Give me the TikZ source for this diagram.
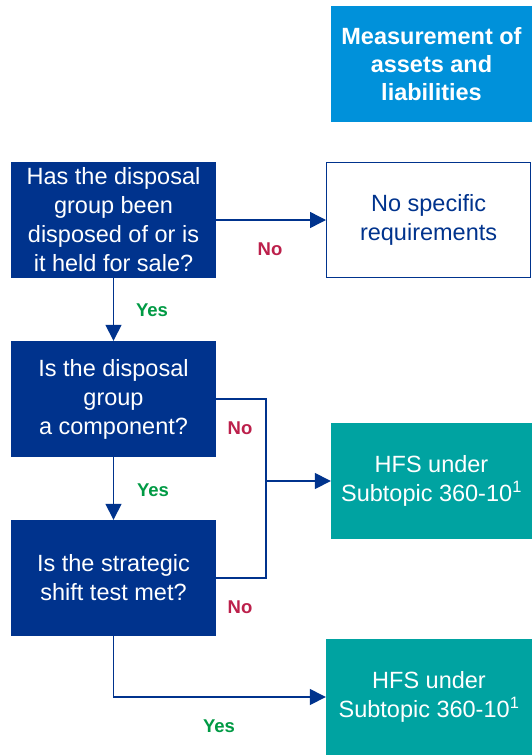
\documentclass[tikz,border=0pt]{standalone}
\usepackage{fontspec}
\setmainfont{Liberation Sans}
\usetikzlibrary{arrows.meta}
\definecolor{kdark}{HTML}{00338D}
\definecolor{klight}{HTML}{0091DA}
\definecolor{kteal}{HTML}{00A3A1}
\definecolor{kred}{HTML}{BC204B}
\definecolor{kgreen}{HTML}{009A44}
\begin{document}
\begin{tikzpicture}[x=1pt,y=-1pt,
  qbox/.style={rectangle, fill=kdark, text=white, minimum width=205pt, minimum height=116pt, inner sep=0pt, align=center, font=\fontsize{23.5}{29}\selectfont},
  headbox/.style={rectangle, fill=klight, text=white, minimum width=201pt, minimum height=116pt, inner sep=0pt, align=center, font=\bfseries\fontsize{23.5}{28}\selectfont},
  wbox/.style={rectangle, draw=kdark, line width=1.2pt, fill=white, text=kdark, minimum width=204pt, minimum height=115pt, inner sep=0pt, align=center, font=\fontsize{23.5}{29}\selectfont},
  tbox/.style={rectangle, fill=kteal, text=white, minimum height=116pt, inner sep=0pt, align=center, font=\fontsize{23.5}{29}\selectfont},
  conn/.style={draw=kdark, line width=1.5pt, -{Triangle[length=16pt,width=16pt]}},
  line/.style={draw=kdark, line width=1.5pt},
  nolab/.style={text=kred, font=\bfseries\fontsize{18.5}{20}\selectfont},
  yeslab/.style={text=kgreen, font=\bfseries\fontsize{18.5}{20}\selectfont}
]
\useasboundingbox (0,0) rectangle (532,755);
\fill[white] (0,0) rectangle (532,755);

\node[headbox] (head) at (431.5,64) {Measurement of\\assets and\\liabilities};

\node[qbox] (q1) at (113.5,220) {Has the disposal\\group been\\disposed of or is\\it held for sale?};
\node[qbox] (q2) at (113.5,399) {Is the disposal\\group\\a component?};
\node[qbox] (q3) at (113.5,578) {Is the strategic\\shift test met?};

\node[wbox] (nospec) at (428.6,220) {No specific\\requirements};
\node[tbox, minimum width=201pt] (hfs1) at (431.5,481) {HFS under\\Subtopic 360-10\textsuperscript{1}};
\node[tbox, minimum width=206pt] (hfs2) at (429,697) {HFS under\\Subtopic 360-10\textsuperscript{1}};

\coordinate (j2) at (266,399);
\coordinate (j3) at (266,578);
\coordinate (jm) at (266,481);
\coordinate (b3) at (113.5,697);

\draw[conn] (q1.east) -- (nospec.west);
\draw[conn] (q1.south) -- (q2.north);
\draw[conn] (q2.south) -- (q3.north);
\draw[line] (q2.east) -- (j2) -- (j3) -- (q3.east);
\draw[conn] (jm) -- (hfs1.west);
\draw[conn] (q3.south) -- (b3) -- (hfs2.west);

\node[nolab] (no1) at (270,249) {No};
\node[yeslab] (yes1) at (152,310) {Yes};
\node[nolab] (no2) at (240,428) {No};
\node[yeslab] (yes2) at (153,490) {Yes};
\node[nolab] (no3) at (240,607) {No};
\node[yeslab] (yes3) at (219,726) {Yes};
\end{tikzpicture}
\end{document}
